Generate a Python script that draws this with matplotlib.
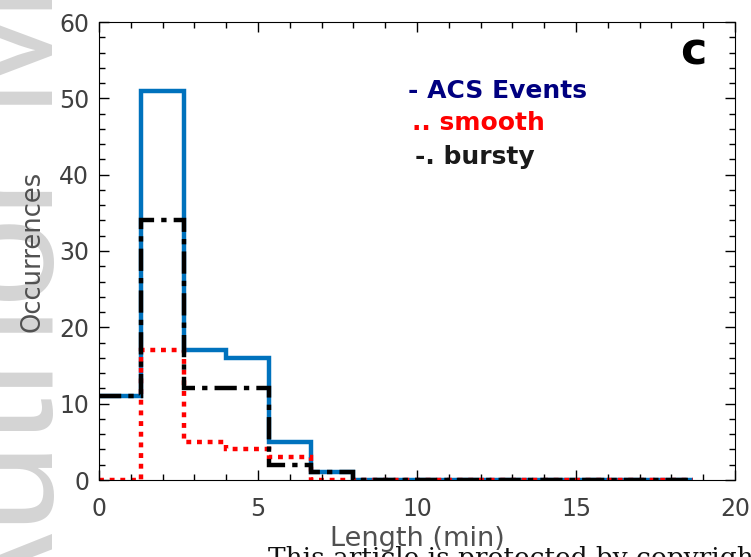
import numpy as np
import matplotlib.pyplot as plt
from matplotlib.ticker import MultipleLocator

# histogram bin edges (min) and counts per bin
edges = np.arange(15) * 4 / 3
acs_events = [11, 51, 17, 16, 5, 1, 0, 0, 0, 0, 0, 0, 0, 0]
smooth = [0, 17, 5, 4, 3, 0, 0, 0, 0, 0, 0, 0, 0, 0]
bursty = [11, 34, 12, 12, 2, 1, 0, 0, 0, 0, 0, 0, 0, 0]

plt.rcParams['font.family'] = ['DejaVu Sans']

W, H = 751, 557
fig = plt.figure(figsize=(W / 100, H / 100), dpi=100)


def px(x, y):
    # pixel position from top-left -> figure fraction
    return x / W, 1 - y / H


# watermark along the left margin and notice at the bottom
fig.text(53 / W, -84 / H, 'Author Manuscript', rotation=90, rotation_mode='anchor',
         fontsize=117, color='#d4d4d4', ha='left', va='baseline', zorder=-1,
         family='Liberation Sans')
fig.text(*px(268, 546), 'This article is protected by copyright. All rights reserved',
         family='DejaVu Serif', fontsize=19, color='#111111', ha='left', va='top', zorder=5)

ax = fig.add_axes([99 / W, 1 - 480 / H, 636 / W, 458 / H])

ax.stairs(acs_events, edges, baseline=None, color='#0072BD', lw=3.2, linestyle='-')
ax.stairs(smooth, edges, baseline=None, color='#FF0000', lw=3.2, linestyle=(0, (1.1, 1.3)))
ax.stairs(bursty, edges, baseline=None, color='black', lw=3.2,
          linestyle=(0, (5, 1.6, 1.2, 1.6)))

ax.set_xlim(0, 20)
ax.set_ylim(0, 60)
ax.xaxis.set_major_locator(MultipleLocator(5))
ax.xaxis.set_minor_locator(MultipleLocator(1))
ax.yaxis.set_major_locator(MultipleLocator(10))
ax.yaxis.set_minor_locator(MultipleLocator(2))
ax.tick_params(which='both', direction='in', top=True, right=True,
               labelsize=17, labelcolor='#404040', width=1)
ax.tick_params(which='major', length=7, pad=12)
ax.tick_params(which='minor', length=4)
ax.tick_params(axis='y', which='major', pad=7)

ax.set_xlabel('Length (min)', fontsize=19.5, color='#505050', labelpad=4)
ax.set_ylabel('Occurrences', fontsize=18.5, color='#505050', labelpad=10)

fig.text(*px(408, 91), '- ACS Events', fontsize=18, fontweight='bold',
         color='#000080', va='center')
fig.text(*px(412, 123), '.. smooth', fontsize=18, fontweight='bold',
         color='#FF0000', va='center')
fig.text(*px(415, 157), '-. bursty', fontsize=18, fontweight='bold',
         color='#1a1a1a', va='center')
fig.text(*px(706, 52), 'c', fontsize=32, fontweight='bold',
         color='black', ha='right', va='center')

fig.savefig('out.png', dpi=100)
